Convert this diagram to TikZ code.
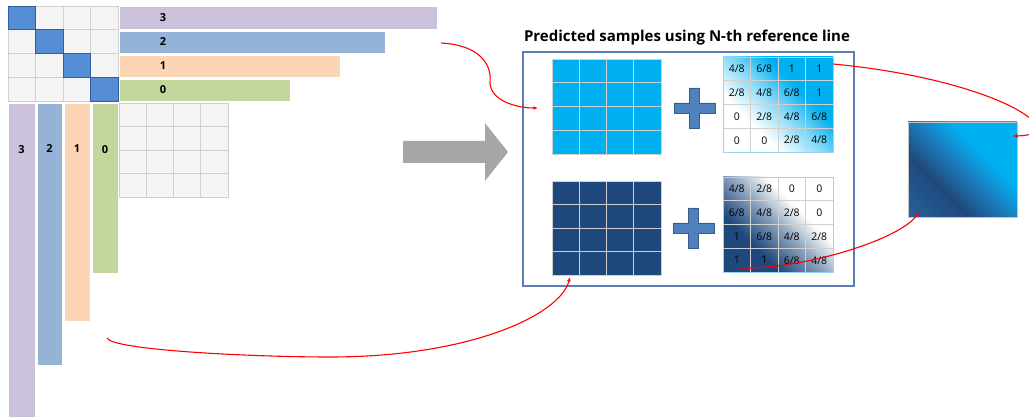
\documentclass[tikz,border=0pt]{standalone}
\usepackage{fontspec}
\setmainfont{Open Sans}
\usetikzlibrary{calc,arrows.meta,shadings}
\definecolor{lav}{HTML}{CCC1DA}
\definecolor{sky}{HTML}{95B3D7}
\definecolor{peach}{HTML}{FCD5B5}
\definecolor{olive}{HTML}{C3D69B}
\definecolor{diag}{HTML}{558ED5}
\definecolor{diagb}{HTML}{2F5E9A}
\definecolor{cell}{HTML}{F4F4F4}
\definecolor{cellline}{HTML}{D0D0D0}
\definecolor{cyanb}{HTML}{00B0F0}
\definecolor{navy}{HTML}{1F497D}
\definecolor{navyl}{HTML}{27609A}
\definecolor{midb}{HTML}{1A7BBC}
\definecolor{framec}{HTML}{5A7DB5}
\definecolor{plusc}{HTML}{4F81BD}
\definecolor{plusb}{HTML}{385D8A}
\definecolor{arrowg}{HTML}{A6A6A6}
\definecolor{wborder}{HTML}{9AD6F2}
\definecolor{navymix}{HTML}{8FA4BE}
\definecolor{cyanmix}{HTML}{80D7F7}
\definecolor{resline}{HTML}{C4C4C4}
\pgfdeclareverticalshading{wone}{100bp}{color(0bp)=(white); color(40bp)=(white); color(50bp)=(cyanmix); color(58bp)=(cyanb); color(100bp)=(cyanb)}
\pgfdeclareverticalshading{wtwo}{100bp}{color(0bp)=(navy); color(40bp)=(navy); color(50bp)=(navymix); color(58bp)=(white); color(100bp)=(white)}
\pgfdeclareverticalshading{wres}{100bp}{color(0bp)=(navyl); color(28bp)=(navyl); color(41bp)=(navy); color(50bp)=(midb); color(58bp)=(cyanb); color(100bp)=(cyanb)}
\begin{document}
\begin{tikzpicture}[x=1pt,y=-1pt,
  every node/.style={inner sep=0pt, outer sep=0pt},
  rectbox/.style={anchor=north west, inner sep=0pt},
  hbar/.style={rectbox, draw=white, line width=0.6pt},
  numtxt/.style={font=\bfseries\fontsize{11}{13}\selectfont},
  wtxt/.style={font=\fontsize{10.5}{12}\selectfont},
  gridline/.style={draw=cellline, line width=0.8pt},
  conn/.style={draw=red, line width=1.1pt, -{Latex[length=4.5pt,width=4pt]}},
  pluspath/.style={fill=plusc, draw=plusb, line width=0.8pt},
]
\useasboundingbox (0,0) rectangle (1029,417);

% ---------- top-left grid ----------
\node[rectbox, fill=cell, draw=cellline, line width=0.8pt, minimum width=110pt, minimum height=95pt] (tl) at (8,6) {};
\foreach \i in {1,2,3} {
  \draw[gridline] ($(tl.north west)!\i/4!(tl.north east)$) -- ($(tl.south west)!\i/4!(tl.south east)$);
  \draw[gridline] ($(tl.north west)!\i/4!(tl.south west)$) -- ($(tl.north east)!\i/4!(tl.south east)$);
}
\foreach \i in {0,...,3}
  \node[rectbox, fill=diag, draw=diagb, line width=0.9pt, minimum width=27.5pt, minimum height=23.75pt] (d\i) at ($(tl.north west)+(27.5*\i,23.75*\i)$) {};

% ---------- horizontal bars ----------
\node[hbar, fill=lav,   minimum width=318pt, minimum height=23pt] (h3) at (119,6) {};
\node[hbar, fill=sky,   minimum width=266pt, minimum height=22pt] (h2) at (119,31) {};
\node[hbar, fill=peach, minimum width=221pt, minimum height=22pt] (h1) at (119,55) {};
\node[hbar, fill=olive, minimum width=171pt, minimum height=22pt] (h0) at (119,79) {};
\node[numtxt] (th3) at (163,18) {3};
\node[numtxt] (th2) at (163,42) {2};
\node[numtxt] (th1) at (163,66) {1};
\node[numtxt] (th0) at (163,90) {0};

% ---------- vertical bars ----------
\node[hbar, fill=lav,   minimum width=27pt, minimum height=320pt] (v3) at (8,103) {};
\node[hbar, fill=sky,   minimum width=25pt, minimum height=262pt] (v2) at (37,103) {};
\node[hbar, fill=peach, minimum width=26pt, minimum height=218pt] (v1) at (64,103) {};
\node[hbar, fill=olive, minimum width=26pt, minimum height=170pt] (v0) at (92,103) {};
\node[numtxt] (tv3) at (21.5,150) {3};
\node[numtxt] (tv2) at (49.5,149) {2};
\node[numtxt] (tv1) at (77,149) {1};
\node[numtxt] (tv0) at (105,150) {0};

% ---------- bottom-right empty grid ----------
\node[rectbox, fill=cell, draw=cellline, line width=0.8pt, minimum width=109pt, minimum height=94pt] (br) at (119,103) {};
\foreach \i in {1,2,3} {
  \draw[gridline] ($(br.north west)!\i/4!(br.north east)$) -- ($(br.south west)!\i/4!(br.south east)$);
  \draw[gridline] ($(br.north west)!\i/4!(br.south west)$) -- ($(br.north east)!\i/4!(br.south east)$);
}

% ---------- big gray arrow ----------
\fill[arrowg] (403,141) -- (485,141) -- (485,123) -- (508,152) -- (485,181) -- (485,163) -- (403,163) -- cycle;

% ---------- title and frame ----------
\node[font=\bfseries\fontsize{15}{18}\selectfont] (title) at (687,38) {Predicted samples using N-th reference line};
\node[rectbox, draw=framec, line width=1.4pt, minimum width=331pt, minimum height=234pt] (frame) at (523,52) {};

% ---------- predicted blocks ----------
\node[rectbox, fill=cyanb, draw=cellline, line width=0.8pt, minimum width=109pt, minimum height=95pt] (l1) at (552,59) {};
\node[rectbox, fill=navy, draw=cellline, line width=0.8pt, minimum width=109pt, minimum height=94pt] (l2) at (552,181) {};
\foreach \g in {l1,l2} {
  \foreach \i in {1,2,3} {
    \draw[gridline] ($(\g.north west)!\i/4!(\g.north east)$) -- ($(\g.south west)!\i/4!(\g.south east)$);
    \draw[gridline] ($(\g.north west)!\i/4!(\g.south west)$) -- ($(\g.north east)!\i/4!(\g.south east)$);
  }
}

% ---------- plus signs ----------
\draw[pluspath] (689,88) -- (699,88) -- (699,103) -- (715,103) -- (715,113) -- (699,113) -- (699,128) -- (689,128) -- (689,113) -- (674,113) -- (674,103) -- (689,103) -- cycle;
\draw[pluspath] (688,208) -- (698,208) -- (698,223) -- (714,223) -- (714,233) -- (698,233) -- (698,248) -- (688,248) -- (688,233) -- (673,233) -- (673,223) -- (688,223) -- cycle;

% ---------- shaded blocks ----------
\node[rectbox, fill=cyanmix, minimum width=110pt, minimum height=95pt] (w1) at (723,57) {};
\node[rectbox, fill=navymix, minimum width=110pt, minimum height=95pt] (w2) at (723,177) {};
\node[rectbox, fill=midb, minimum width=109pt, minimum height=95pt] (res) at (908,122) {};
\foreach \g/\s in {w1/wone, w2/wtwo, res/wres} {
  \begin{scope}
    \clip (\g.north west) rectangle (\g.south east);
    \shade[shading=\s, shading angle=-45]
      ([shift={(-80pt,-80pt)}]\g.center) rectangle ([shift={(80pt,80pt)}]\g.center);
  \end{scope}
}
\draw[draw=wborder, line width=0.9pt] (w1.north west) rectangle (w1.south east);
\draw[draw=wborder, line width=0.9pt] (w2.north west) rectangle (w2.south east);
\draw[draw=resline, line width=0.8pt] (res.north west) rectangle (res.south east);

\foreach \g in {w1,w2} {
  \foreach \i in {1,2,3} {
    \draw[gridline] ($(\g.north west)!\i/4!(\g.north east)$) -- ($(\g.south west)!\i/4!(\g.south east)$);
    \draw[gridline] ($(\g.north west)!\i/4!(\g.south west)$) -- ($(\g.north east)!\i/4!(\g.south east)$);
  }
}
\foreach \v [count=\k from 0] in {{4/8},{6/8},1,1,{2/8},{4/8},{6/8},1,0,{2/8},{4/8},{6/8},0,0,{2/8},{4/8}} {
  \pgfmathtruncatemacro{\r}{int(\k/4)}
  \pgfmathtruncatemacro{\c}{\k-4*\r}
  \node[wtxt] (wa\k) at ($(w1.north west)+(13.75+27.5*\c,12+23.75*\r)$) {\v};
}
\foreach \v [count=\k from 0] in {{4/8},{2/8},0,0,{6/8},{4/8},{2/8},0,1,{6/8},{4/8},{2/8},1,1,{6/8},{4/8}} {
  \pgfmathtruncatemacro{\r}{int(\k/4)}
  \pgfmathtruncatemacro{\c}{\k-4*\r}
  \node[wtxt] (wb\k) at ($(w2.north west)+(13.75+27.5*\c,12+23.75*\r)$) {\v};
}

% ---------- red connectors ----------
\coordinate (c1s) at (441,43);
\coordinate (c1e) at (538,108);
\coordinate (c2s) at (107,338);
\coordinate (c2e) at (570,277);
\coordinate (c3s) at (833,64);
\coordinate (c3e) at (1013,136);
\coordinate (c4s) at (740,268);
\coordinate (c4e) at (919,212);
\draw[conn] (c1s) .. controls (480,45) and (492,65) .. (490,82) .. controls (490,100) and (515,108) .. (c1e);
\draw[conn] (c2s) .. controls (112,350) and (250,357) .. (330,357) .. controls (470,357) and (560,315) .. (c2e);
\draw[conn] (c3s) .. controls (1000,80) and (1075,135) .. (c3e);
\draw[conn] (c4s) .. controls (800,270) and (900,240) .. (c4e);
\end{tikzpicture}
\end{document}
